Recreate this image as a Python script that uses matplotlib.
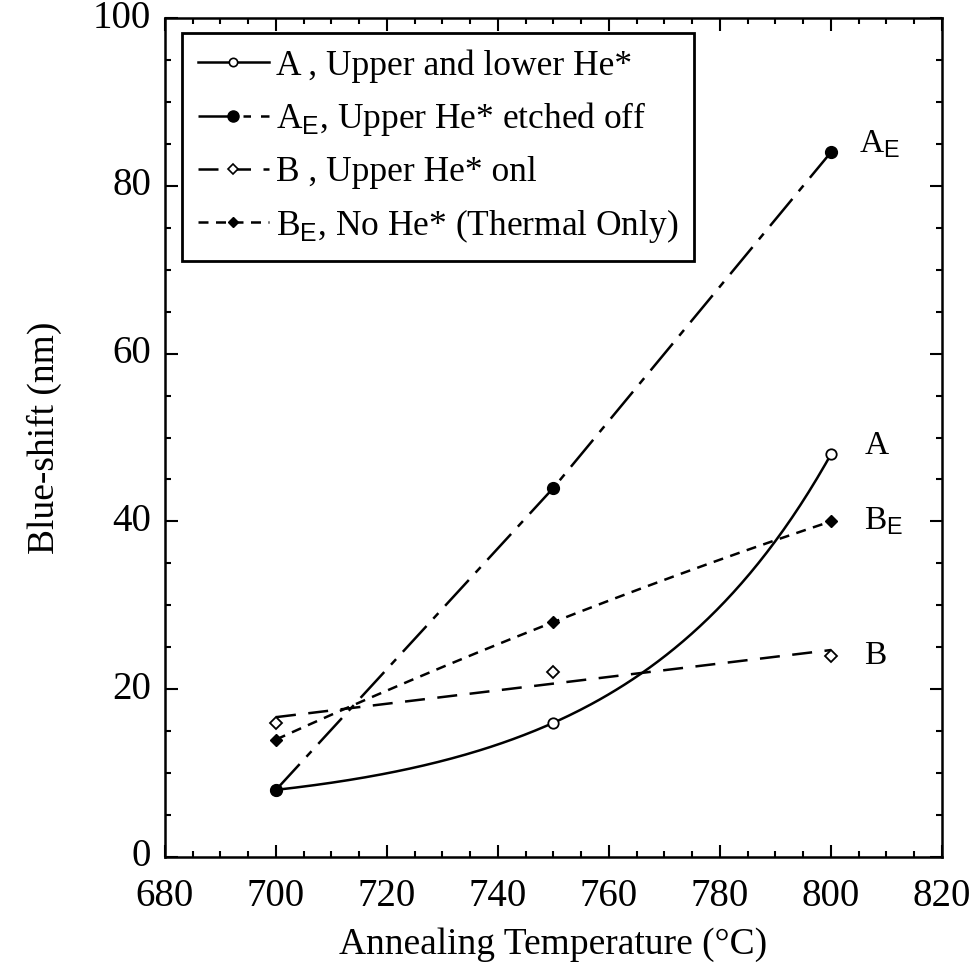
import numpy as np
import matplotlib
matplotlib.use('Agg')
import matplotlib.pyplot as plt
from matplotlib.ticker import MultipleLocator
from matplotlib.lines import Line2D

plt.rcParams['font.family'] = ['Liberation Serif', 'DejaVu Serif']
plt.rcParams['mathtext.fontset'] = 'custom'
plt.rcParams['mathtext.rm'] = 'Liberation Serif'
plt.rcParams['mathtext.sf'] = 'Liberation Sans'

# annealing temperatures (C) and blue-shift (nm) for each sample
temps = [700, 750, 800]
a_vals = [8, 16, 48]      # A, upper and lower He*
ae_vals = [8, 44, 84]     # A_E, upper He* etched off
b_vals = [16, 22, 24]     # B, upper He* only
be_vals = [14, 28, 40]    # B_E, no He* (thermal only)

labels = ['A , Upper and lower He*',
          r'A$_{\mathsf{E}}$, Upper He* etched off',
          'B , Upper He* onl',
          r'B$_{\mathsf{E}}$, No He* (Thermal Only)']
end_labels = ['A', r'A$_{\mathsf{E}}$', 'B', r'B$_{\mathsf{E}}$']

t = np.array(temps, dtype=float)
tt = np.linspace(700, 800, 200)

# smooth curves through / fitted to the measured points
ya = np.array(a_vals, dtype=float)
u = (ya[2] - ya[0]) / (ya[1] - ya[0]) - 1
bcoef = (ya[1] - ya[0]) / (u - 1)
a_curve = ya[0] - bcoef + bcoef * u ** ((tt - 700) / 50)
b_curve = np.polyval(np.polyfit(t, b_vals, 1), tt)
be_curve = np.polyval(np.polyfit(t, be_vals, 2), tt)

fig = plt.figure(figsize=(9.74, 9.69), dpi=100)
ax = fig.add_axes([0.1694, 0.1156, 0.7977, 0.8658])

lw = 1.8
ae_ls = (0, (14, 4, 3, 4))
b_ls = (0, (8, 5))
be_ls = (0, (4, 3))
# A
ax.plot(tt, a_curve, color='black', lw=lw, zorder=2)
ax.plot(temps, a_vals, 'o', color='black', mfc='white', mew=1.3, ms=7.5, zorder=3)
# A_E
ax.plot(temps, ae_vals, color='black', lw=lw, ls=ae_ls, zorder=2)
ax.plot(temps, ae_vals, 'o', color='black', ms=8.5, zorder=4)
# B
ax.plot(tt, b_curve, color='black', lw=lw, ls=b_ls, zorder=2)
ax.plot(temps, b_vals, 'D', color='black', mfc='white', mew=1.3, ms=6, zorder=3)
# B_E
ax.plot(tt, be_curve, color='black', lw=lw, ls=be_ls, zorder=2)
ax.plot(temps, be_vals, 'D', color='black', ms=6, zorder=3)

# legend proxies
handles = [
    Line2D([], [], color='black', lw=lw, marker='o', mfc='white', mew=1.2, ms=6),
    Line2D([], [], color='black', lw=lw, ls=ae_ls, marker='o', ms=8),
    Line2D([], [], color='black', lw=lw, ls=b_ls, marker='D', mfc='white', mew=1.2, ms=5),
    Line2D([], [], color='black', lw=lw, ls=be_ls, marker='D', ms=5),
]
leg = ax.legend(handles, labels, loc='upper left', bbox_to_anchor=(0.022, 0.982),
                borderaxespad=0, fontsize=25.5, fancybox=False, framealpha=1,
                edgecolor='black', handlelength=2.0, handletextpad=0.2,
                labelspacing=0.5, borderpad=0.45, numpoints=1)
leg.get_frame().set_linewidth(2)

# end-of-line labels
ends = [(806, 48), (805, 84), (806, 23), (806, 39)]
for lab, (x, y) in zip(end_labels, ends):
    ax.text(x, y, lab, fontsize=24, ha='left', va='baseline')

ax.set_xlim(680, 820)
ax.set_ylim(0, 100)
ax.xaxis.set_major_locator(MultipleLocator(20))
ax.xaxis.set_minor_locator(MultipleLocator(5))
ax.yaxis.set_major_locator(MultipleLocator(20))
ax.yaxis.set_minor_locator(MultipleLocator(5))
ax.tick_params(which='both', direction='in', top=True, right=True, width=1.5)
ax.tick_params(which='major', length=9, labelsize=28)
ax.tick_params(axis='x', which='major', pad=15)
ax.tick_params(axis='y', which='major', pad=10)
ax.tick_params(which='minor', length=4.5)
for lbl in ax.get_yticklabels():
    lbl.set_verticalalignment('center')
for s in ax.spines.values():
    s.set_linewidth(1.8)

ax.set_xlabel('Annealing Temperature (°C)', fontsize=27, labelpad=9)
ax.set_ylabel('Blue-shift (nm)', fontsize=27, labelpad=22)

fig.savefig('out.png', dpi=100)
